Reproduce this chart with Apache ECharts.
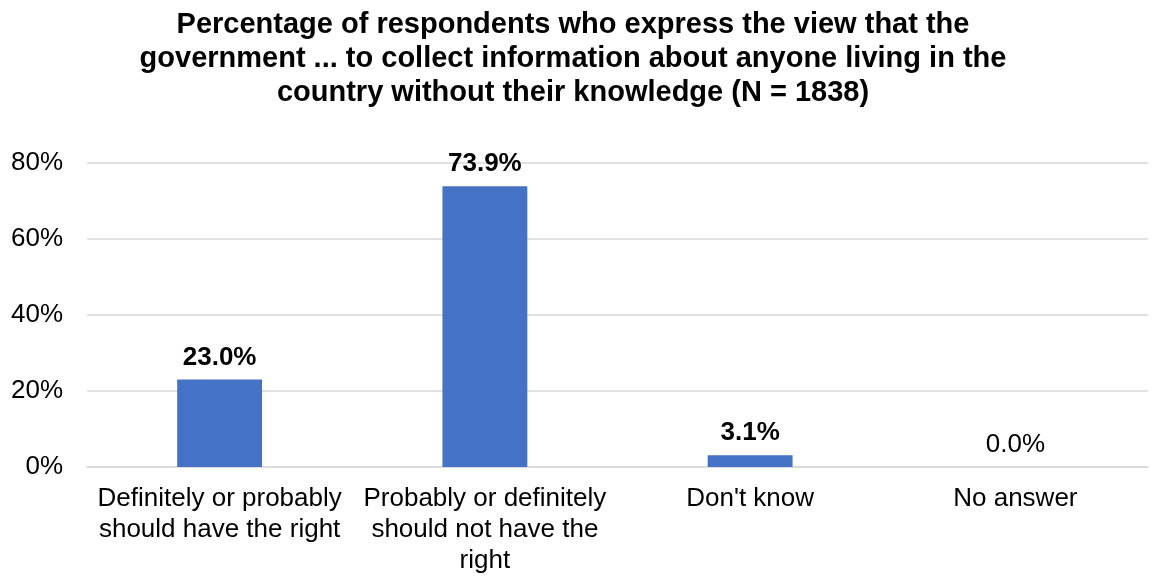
<!DOCTYPE html>
<html>
<head>
<meta charset="utf-8">
<script src="https://cdn.jsdelivr.net/npm/echarts@6/dist/echarts.min.js"></script>
<style>
  html, body { margin: 0; padding: 0; background: #fff; }
  #chart { width: 1162px; height: 576px; }
</style>
</head>
<body>
<div id="chart"></div>
<script>
// Survey answers (share of respondents, %)
const categories = [
  'Definitely or probably\nshould have the right',
  'Probably or definitely\nshould not have the\nright',
  "Don't know",
  'No answer'
];
const shares = [23.0, 73.9, 3.1, 0.0];
const yTicks = [0, 20, 40, 60, 80];

const font = 'Liberation Sans, Arial, sans-serif';

const chart = echarts.init(document.getElementById('chart'), null, { renderer: 'canvas' });
chart.setOption({
  animation: false,
  title: {
    text: 'Percentage of respondents who express the view that the\ngovernment ... to collect information about anyone living in the\ncountry without their knowledge (N = 1838)',
    left: 568,
    textAlign: 'center',
    top: 3,
    textStyle: {
      fontFamily: font,
      fontSize: 29,
      fontWeight: 'bold',
      color: '#000',
      lineHeight: 34
    }
  },
  grid: { left: 87, right: 14, top: 163, bottom: 108, containLabel: false },
  xAxis: {
    type: 'category',
    data: categories,
    axisLine: { show: true, lineStyle: { color: '#d9d9d9', width: 1.5 } },
    axisTick: { show: false },
    axisLabel: {
      interval: 0,
      margin: 16,
      fontFamily: font,
      fontSize: 26,
      color: '#000',
      lineHeight: 31
    }
  },
  yAxis: {
    type: 'value',
    min: yTicks[0],
    max: yTicks[yTicks.length - 1],
    interval: 20,
    axisLine: { show: false },
    axisTick: { show: false },
    splitLine: { lineStyle: { color: '#d9d9d9', width: 1.5 } },
    axisLabel: {
      margin: 24,
      fontFamily: font,
      fontSize: 26,
      color: '#000',
      formatter: v => v + '%'
    }
  },
  series: [{
    type: 'bar',
    data: shares.map(v => ({
      value: v,
      label: { fontWeight: v > 0 ? 'bold' : 'normal' }
    })),
    barWidth: '32%',
    itemStyle: { color: '#4472C4' },
    label: {
      show: true,
      position: 'top',
      distance: 9,
      fontFamily: font,
      fontSize: 26,
      color: '#000',
      formatter: p => p.value.toFixed(1) + '%'
    }
  }]
});
</script>
</body>
</html>
